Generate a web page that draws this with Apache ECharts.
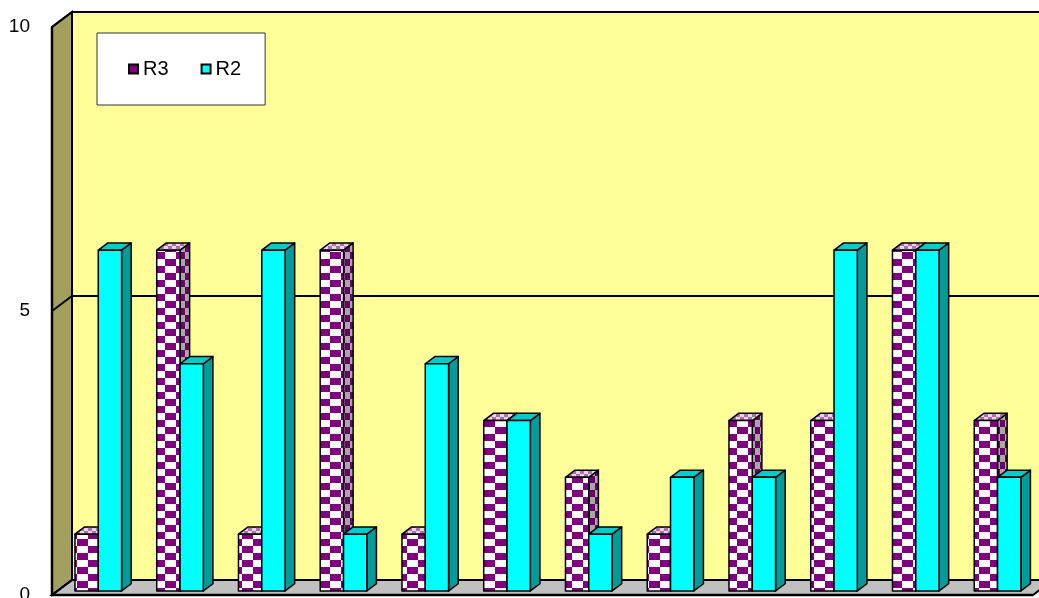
<!DOCTYPE html>
<html><head><meta charset="utf-8">
<script src="https://cdn.jsdelivr.net/npm/echarts@6.0.0/dist/echarts.min.js"></script>
<style>html,body{margin:0;padding:0;background:#fff;overflow:hidden}#c{width:1039px;height:598px}</style>
</head><body><div id="c"></div>
<script>
const categories = ['1','2','3','4','5','6','7','8','9','10','11','12'];
const r3Values = [1,6,1,6,1,3,2,1,3,3,6,3];
const r2Values = [6,4,6,1,4,3,1,2,2,6,6,2];
const yTicks = [0,5,10];

const DX = 20, DY = -15, F0 = 0.27, F1 = 0.75;

function makePattern(bg, fg, w, h) {
  const cv = document.createElement('canvas');
  cv.width = w * 2; cv.height = h * 2;
  const ctx = cv.getContext('2d');
  ctx.fillStyle = bg; ctx.fillRect(0, 0, w * 2, h * 2);
  ctx.fillStyle = fg; ctx.fillRect(0, 0, w, h); ctx.fillRect(w, h, w, h);
  return { image: cv, repeat: 'repeat' };
}
const r3Front = makePattern('#ffffff', '#800080', 11, 7);
const r3Side = makePattern('#a8a8a8', '#6a006a', 5, 7);
const r3Top = makePattern('#e6d6e6', '#b070b0', 4, 3);

const faces = [
  { front: r3Front, side: r3Side, top: r3Top },
  { front: '#00FFFF', side: '#009c9c', top: '#00cccc' }
];

function wallRender(params, api) {
  const cs = params.coordSys;
  const x0 = cs.x, y0 = cs.y, x1 = cs.x + cs.width, y1 = cs.y + cs.height;
  const st = { stroke: '#000', lineWidth: 2 };
  const children = [
    { type: 'rect', shape: { x: x0 + DX, y: y0 + DY, width: cs.width, height: cs.height },
      style: Object.assign({ fill: '#FFFF99' }, st) },
    { type: 'polygon', shape: { points: [[x0, y0], [x0 + DX, y0 + DY], [x0 + DX, y1 + DY], [x0, y1]] },
      style: Object.assign({ fill: '#A39F5E' }, st) },
    { type: 'polygon', shape: { points: [[x0, y1], [x0 + DX, y1 + DY], [x1 + DX, y1 + DY], [x1, y1]] },
      style: Object.assign({ fill: '#C0C0C0' }, st) }
  ];
  yTicks.forEach(t => {
    const y = api.coord([0, t])[1];
    children.push({ type: 'polyline', shape: { points: [[x0, y], [x0 + DX, y + DY], [x1 + DX, y + DY]] },
      style: { stroke: '#000', lineWidth: 2, fill: null } });
  });
  children.push({ type: 'line', shape: { x1: x0, y1: y0, x2: x0, y2: y1 + 1 }, style: { stroke: '#000', lineWidth: 2.5 } });
  children.push({ type: 'line', shape: { x1: x0, y1: y1, x2: x1, y2: y1 }, style: { stroke: '#000', lineWidth: 2.5 } });
  return { type: 'group', children: children };
}

function barRender(si) {
  return function (params, api) {
    const idx = api.value(0), v = api.value(1);
    const top = api.coord([idx, v]);
    const base = api.coord([idx, 0]);
    const band = api.size([1, 0])[0];
    const w = band * 0.285;
    const xl = (si === 0 ? top[0] - w : top[0]) + F0 * DX;
    const yt = top[1] + F0 * DY, yb = base[1] + F0 * DY;
    const bx = (F1 - F0) * DX, by = (F1 - F0) * DY;
    const f = faces[si];
    const st = { stroke: '#000', lineWidth: 1.5, lineJoin: 'round' };
    return { type: 'group', children: [
      { type: 'polygon', shape: { points: [[xl + w, yt], [xl + w + bx, yt + by], [xl + w + bx, yb + by], [xl + w, yb]] },
        style: Object.assign({ fill: f.side }, st) },
      { type: 'polygon', shape: { points: [[xl, yt], [xl + bx, yt + by], [xl + w + bx, yt + by], [xl + w, yt]] },
        style: Object.assign({ fill: f.top }, st) },
      { type: 'rect', shape: { x: xl, y: yt, width: w, height: yb - yt },
        style: Object.assign({ fill: f.front }, st) }
    ] };
  };
}

const chart = echarts.init(document.getElementById('c'));
chart.setOption({
  animation: false,
  backgroundColor: '#ffffff',
  grid: { left: 52, right: 6, top: 27, bottom: 3, containLabel: false, outerBoundsMode: 'none' },
  legend: {
    data: ['R3', 'R2'], left: 97, top: 33, icon: 'rect', itemWidth: 9, itemHeight: 9, itemGap: 32,
    backgroundColor: '#ffffff', borderColor: '#333', borderWidth: 1, padding: [26, 24, 26, 31],
    itemStyle: { borderColor: '#000', borderWidth: 2 },
    textStyle: { fontSize: 20, color: '#000', fontFamily: 'Liberation Sans, Arial, sans-serif' }
  },
  xAxis: { type: 'category', data: categories, axisLine: { show: false }, axisTick: { show: false },
    axisLabel: { show: false }, splitLine: { show: false } },
  yAxis: { type: 'value', min: 0, max: 10, interval: 5, axisLine: { show: false }, axisTick: { show: false },
    splitLine: { show: false },
    axisLabel: { fontSize: 19, color: '#000', margin: 22, fontFamily: 'Liberation Sans, Arial, sans-serif' } },
  series: [
    { type: 'custom', name: 'walls', z: 1, renderItem: wallRender, data: [[0, 0]], silent: true, clip: false },
    { type: 'custom', name: 'R3', z: 2, itemStyle: { color: '#800080' }, renderItem: barRender(0),
      data: r3Values.map((v, i) => [i, v]), clip: false },
    { type: 'custom', name: 'R2', z: 3, itemStyle: { color: '#00FFFF' }, renderItem: barRender(1),
      data: r2Values.map((v, i) => [i, v]), clip: false }
  ]
});
</script></body></html>
